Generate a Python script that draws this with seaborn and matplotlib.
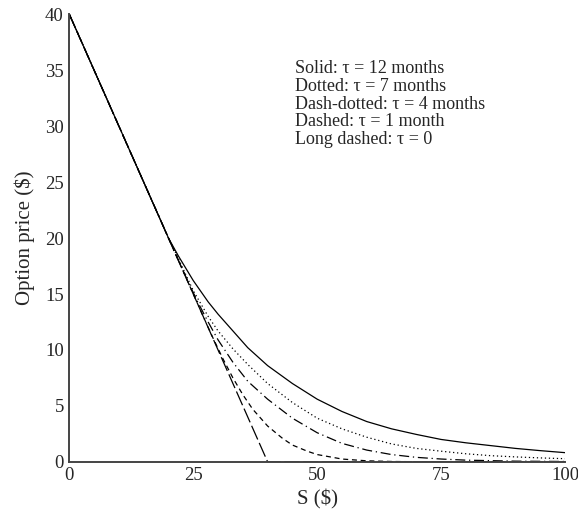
import matplotlib
matplotlib.use("Agg")
import matplotlib.pyplot as plt
from matplotlib.ticker import MultipleLocator
import pandas as pd
import seaborn as sns

# Option price vs underlying
S_12M = [0, 5, 10, 15, 18, 20, 22, 25, 28, 30, 33, 36, 40, 45, 50, 55, 60, 65, 70, 75, 80, 85, 90, 95, 100]
V_12M = [40, 35, 30, 25, 22, 20.0, 18.4, 16.2, 14.3, 13.2, 11.7, 10.2, 8.6, 7.0, 5.6, 4.5, 3.6, 2.95, 2.45, 2.0, 1.7, 1.45, 1.2, 1.0, 0.82]

S_7M = [0, 5, 10, 15, 20, 21, 23, 25, 28, 30, 33, 36, 40, 45, 50, 55, 60, 65, 70, 75, 80, 85, 90, 95, 100]
V_7M = [40, 35, 30, 25, 20, 19.1, 17.2, 15.3, 13.0, 11.7, 10.1, 8.7, 7.0, 5.3, 3.9, 2.95, 2.2, 1.6, 1.2, 0.95, 0.72, 0.55, 0.44, 0.35, 0.28]

S_4M = [0, 5, 10, 15, 20, 22, 24, 26, 28, 30, 33, 36, 40, 45, 50, 55, 60, 65, 70, 75, 80, 90, 100]
V_4M = [40, 35, 30, 25, 20, 18.0, 16.05, 14.2, 12.5, 10.9, 8.9, 7.2, 5.6, 3.9, 2.6, 1.65, 1.05, 0.65, 0.4, 0.25, 0.15, 0.06, 0.03]

S_1M = [0, 5, 10, 15, 20, 25, 27, 29, 31, 33, 35, 37, 40, 43, 45, 48, 50, 55, 60, 65, 70, 80, 90, 100]
V_1M = [40, 35, 30, 25, 20, 15, 13.0, 11.05, 9.2, 7.5, 6.0, 4.7, 3.2, 2.1, 1.5, 0.95, 0.65, 0.25, 0.09, 0.03, 0.01, 0, 0, 0]

S_0 = [0, 40, 100]
V_0 = [40, 0, 0]

CURVES = ["12m", "7m", "4m", "1m", "0"]
DASHES = {"12m": "", "7m": (1, 2.2), "4m": (8, 3, 1, 3), "1m": (4, 3), "0": (12, 3)}

LABEL = (
    "Solid: \u03c4 = 12 months\n"
    "Dotted: \u03c4 = 7 months\n"
    "Dash-dotted: \u03c4 = 4 months\n"
    "Dashed: \u03c4 = 1 month\n"
    "Long dashed: \u03c4 = 0"
)


def _frame() -> pd.DataFrame:
    parts = []
    for name, s, v in zip(CURVES, [S_12M, S_7M, S_4M, S_1M, S_0], [V_12M, V_7M, V_4M, V_1M, V_0]):
        parts.append(pd.DataFrame({"S": s, "price": v, "curve": name}))
    return pd.concat(parts, ignore_index=True)


def main() -> None:
    sns.set_style("white")
    plt.rcParams["font.family"] = ["Liberation Serif", "DejaVu Serif"]

    df = _frame()

    fig = plt.figure(figsize=(5.78, 5.12), dpi=100)
    ax = fig.add_axes([0.12, 0.098, 0.8575, 0.874])

    sns.lineplot(
        data=df, x="S", y="price", style="curve", style_order=CURVES,
        dashes=DASHES, color="black", linewidth=0.9, legend=False,
        sort=False, estimator=None, ax=ax,
    )

    ax.set_xlim(0, 100)
    ax.set_ylim(0, 40)
    ax.xaxis.set_major_locator(MultipleLocator(25))
    ax.xaxis.set_minor_locator(MultipleLocator(5))
    ax.yaxis.set_major_locator(MultipleLocator(5))
    ax.yaxis.set_minor_locator(MultipleLocator(1))

    for side in ["top", "right"]:
        ax.spines[side].set_visible(False)
    for side in ["left", "bottom"]:
        ax.spines[side].set_color("#444444")
        ax.spines[side].set_linewidth(1.4)

    ax.tick_params(which="both", direction="in", color="#444444", width=1.2,
                   labelsize=13.5, pad=4)
    ax.tick_params(which="major", length=7)
    ax.tick_params(which="minor", length=4.5)

    ax.set_xlabel("S ($)", fontsize=15, labelpad=4)
    ax.set_ylabel("Option price ($)", fontsize=15, labelpad=7)

    ax.text(0.455, 0.897, LABEL, transform=ax.transAxes, fontsize=13,
            va="top", ha="left", linespacing=1.05)

    fig.savefig("out.png", dpi=100)
    plt.close(fig)


if __name__ == "__main__":
    main()
